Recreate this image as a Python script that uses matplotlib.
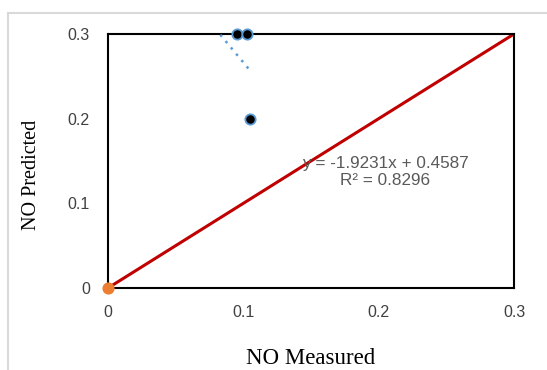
import numpy as np
from matplotlib import pyplot as plt
from matplotlib.lines import Line2D

# measured vs predicted NO
measured = [0.095, 0.103, 0.105]
predicted = [0.30, 0.30, 0.20]
origin_x = [0.0]
origin_y = [0.0]
ticks = [0, 0.1, 0.2, 0.3]
tick_labels = ['0', '0.1', '0.2', '0.3']
slope, intercept = -1.9231, 0.4587
trend_x = [0.083, 0.104]

W, H = 547, 370
fig = plt.figure(figsize=(W/100, H/100), dpi=100)
ax = fig.add_axes([108/W, 1 - 288/H, (514-108)/W, (288-34)/H])

# 1:1 line
ax.plot([0, 0.3], [0, 0.3], color='#C00000', lw=2.2, zorder=2)

# linear trendline
tx = np.array(trend_x)
ax.plot(tx, slope*tx + intercept, ls=(0, (1, 2.3)), color='#5B9BD5', lw=1.8, zorder=3, clip_on=False)

ax.scatter(measured, predicted, s=55, color='black', edgecolor='#5B9BD5', lw=1.3, zorder=5, clip_on=False)
ax.scatter(origin_x, origin_y, s=60, color='#ED7D31', zorder=5, clip_on=False)

ax.text((385-108)/406, (288-172)/254, 'y = -1.9231x + 0.4587\nR² = 0.8296', transform=ax.transAxes,
        ha='center', va='center', fontsize=12.3, color='#595959', family='Liberation Sans', linespacing=1.2)

ax.set_xlim(0, 0.3)
ax.set_ylim(0, 0.3)
ax.set_xticks(ticks)
ax.set_xticklabels(tick_labels)
ax.set_yticks(ticks)
ax.set_yticklabels(tick_labels)
ax.tick_params(length=0, labelsize=11.5, labelcolor='#404040')
ax.tick_params(axis='y', pad=13)
ax.tick_params(axis='x', pad=12)
for lbl in ax.get_xticklabels() + ax.get_yticklabels():
    lbl.set_family('Liberation Sans')
for s in ax.spines.values():
    s.set_color('black')
    s.set_linewidth(1.5)

ax.set_xlabel('NO Measured', family='Liberation Serif', fontsize=16.5)
ax.xaxis.set_label_coords(0.5, (288-348)/254)
ax.set_ylabel('NO Predicted', family='Liberation Serif', fontsize=14.5, va='center')
ax.yaxis.set_label_coords((31-108)/406, (288-175)/254)

# light frame around the chart area (left and top edges visible)
fig.add_artist(Line2D([8/W, 8/W], [0, 1 - 13/H], transform=fig.transFigure, color='#D9D9D9', lw=1.5))
fig.add_artist(Line2D([8/W, 1], [1 - 13/H, 1 - 13/H], transform=fig.transFigure, color='#D9D9D9', lw=1.5))

fig.savefig('out.png', dpi=100)
